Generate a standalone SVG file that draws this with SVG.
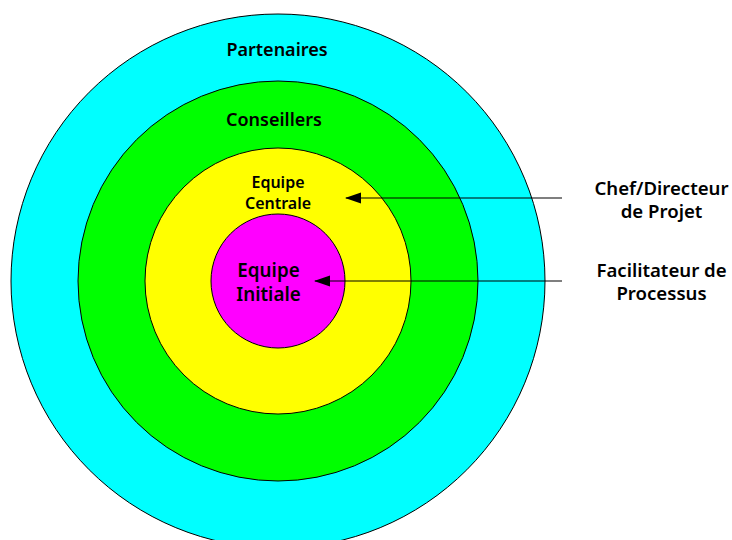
<svg xmlns="http://www.w3.org/2000/svg" width="732" height="540" viewBox="0 0 732 540">
<style>
.ring{stroke:#000;stroke-width:1}
.lbl{font-family:"Noto Sans","Open Sans","Liberation Sans",sans-serif;font-weight:600;fill:#000;text-anchor:middle}
.conn{stroke:#000;stroke-width:1.2;fill:none;marker-end:url(#ah)}
</style>
<defs>
<marker id="ah" viewBox="0 0 16 12" refX="15" refY="6" markerWidth="16" markerHeight="12" markerUnits="userSpaceOnUse" orient="auto">
<path d="M0,0.5 L16,6 L0,11.5 Z" fill="#000"/>
</marker>
</defs>
<rect width="732" height="540" fill="#fff"/>
<g id="partenaires">
<circle class="ring" cx="278" cy="281" r="267" fill="#00ffff"/>
<text class="lbl" x="277" y="56" font-size="18">Partenaires</text>
</g>
<g id="conseillers">
<circle class="ring" cx="278" cy="281" r="200" fill="#00ff00"/>
<text class="lbl" x="274" y="126" font-size="18">Conseillers</text>
</g>
<g id="equipe-centrale">
<circle class="ring" cx="278" cy="281" r="133" fill="#ffff00"/>
<text class="lbl" x="278" y="188" font-size="16">Equipe</text>
<text class="lbl" x="278" y="209" font-size="16">Centrale</text>
</g>
<g id="equipe-initiale">
<circle class="ring" cx="278" cy="281" r="67" fill="#ff00ff"/>
<text class="lbl" x="268.5" y="277" font-size="18.8">Equipe</text>
<text class="lbl" x="268.5" y="301" font-size="18.8">Initiale</text>
</g>
<g id="chef-directeur">
<text class="lbl" x="661.5" y="195" font-size="18.6">Chef/Directeur</text>
<text class="lbl" x="661.5" y="218" font-size="18.6">de Projet</text>
</g>
<g id="facilitateur">
<text class="lbl" x="661.5" y="277" font-size="18.6">Facilitateur de</text>
<text class="lbl" x="661.5" y="300" font-size="18.6">Processus</text>
</g>
<g id="connectors">
<line class="conn" x1="562" y1="198" x2="346" y2="198"/>
<line class="conn" x1="562" y1="281" x2="315" y2="281"/>
</g>
</svg>
